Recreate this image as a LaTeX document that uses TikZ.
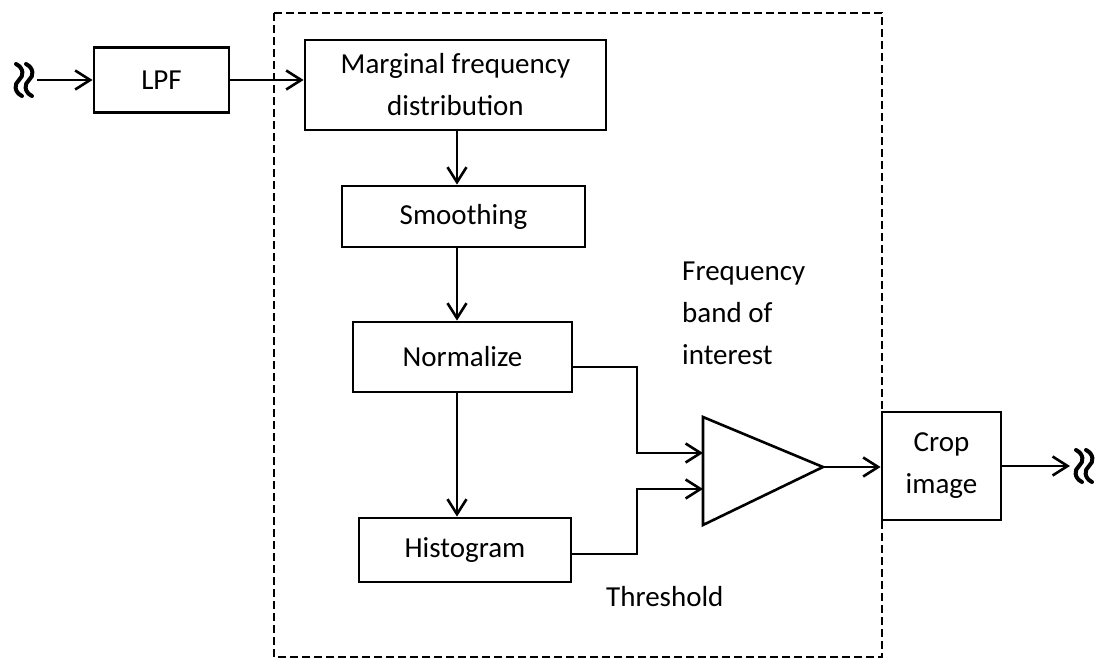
\documentclass[tikz,border=0pt]{standalone}
\usepackage{fontspec}
\setmainfont{Carlito}
\usetikzlibrary{arrows.meta,calc}
\begin{document}
\begin{tikzpicture}[x=1pt,y=-1pt,
  font=\fontsize{29}{42}\selectfont,
  box/.style={draw,line width=2.8pt,inner sep=0pt,align=center},
  conn/.style={line width=2.6pt},
  arr/.style={conn,-{Straight Barb[length=15pt,width=19pt,line width=2.6pt]}},
  lbl/.style={inner sep=0pt,align=left},
  dbox/.style={line width=2.8pt,dash pattern=on 8pt off 4pt},
  brk/.pic={
    \draw[line width=4pt,line cap=round] (-8,-16) .. controls (0,-12) and (0,-4) .. (-5,0) .. controls (-10,4) and (-10,12) .. (-2,16);
    \draw[line width=4pt,line cap=round] (2,-16) .. controls (10,-12) and (10,-4) .. (5,0) .. controls (0,4) and (0,12) .. (8,16);
  }]
\useasboundingbox (0,0) rectangle (1104,660);

% dashed enclosure
\draw[dbox] (274,13) rectangle (882,657);

% blocks
\node[box,minimum width=135pt,minimum height=65pt] (lpf) at (161.5,80) {LPF};
\node[box,minimum width=301pt,minimum height=90pt] (marg) at (455.5,85) {Marginal frequency\\distribution};
\node[box,minimum width=243pt,minimum height=61pt] (smooth) at (463.5,216.5) {Smoothing};
\node[box,minimum width=219pt,minimum height=70pt] (norm) at (462.5,357) {Normalize};
\node[box,minimum width=212pt,minimum height=64pt] (hist) at (465,550) {Histogram};
\node[box,minimum width=119pt,minimum height=108pt] (crop) at (941.5,466) {Crop\\image};

% comparator triangle
\draw[line width=2.6pt,line join=miter] (703,417) -- (823,467) -- (703,525) -- cycle;
\coordinate (tri1) at (703,453);
\coordinate (tri2) at (703,489);
\coordinate (triout) at (823,467);

% labels
\node[lbl,anchor=north west] (freq) at (682,262) {Frequency\\band of\\interest};
\node[lbl,anchor=west] (thr) at (606,597) {Threshold};

% break symbols and free ends
\pic at (24,80) {brk};
\pic at (1084,466) {brk};
\coordinate (inL) at (37,80);
\coordinate (outR) at (1070,466);
\coordinate (vx) at (457,0);
\coordinate (kx) at (637,0);

% connectors
\draw[arr] (inL) -- (lpf.west);
\draw[arr] (lpf.east) -- (lpf.east -| marg.west);
\draw[arr] (marg.south -| vx) -- (smooth.north -| vx);
\draw[arr] (smooth.south -| vx) -- (norm.north -| vx);
\draw[arr] (norm.south -| vx) -- (hist.north -| vx);
\draw[arr] ([yshift=-10pt]norm.east) -| (kx |- tri1) -- (tri1);
\draw[arr] ([yshift=-4pt]hist.east) -| (kx |- tri2) -- (tri2);
\draw[arr] (triout) -- (triout -| crop.west);
\draw[arr] (crop.east) -- (outR);
\end{tikzpicture}
\end{document}
